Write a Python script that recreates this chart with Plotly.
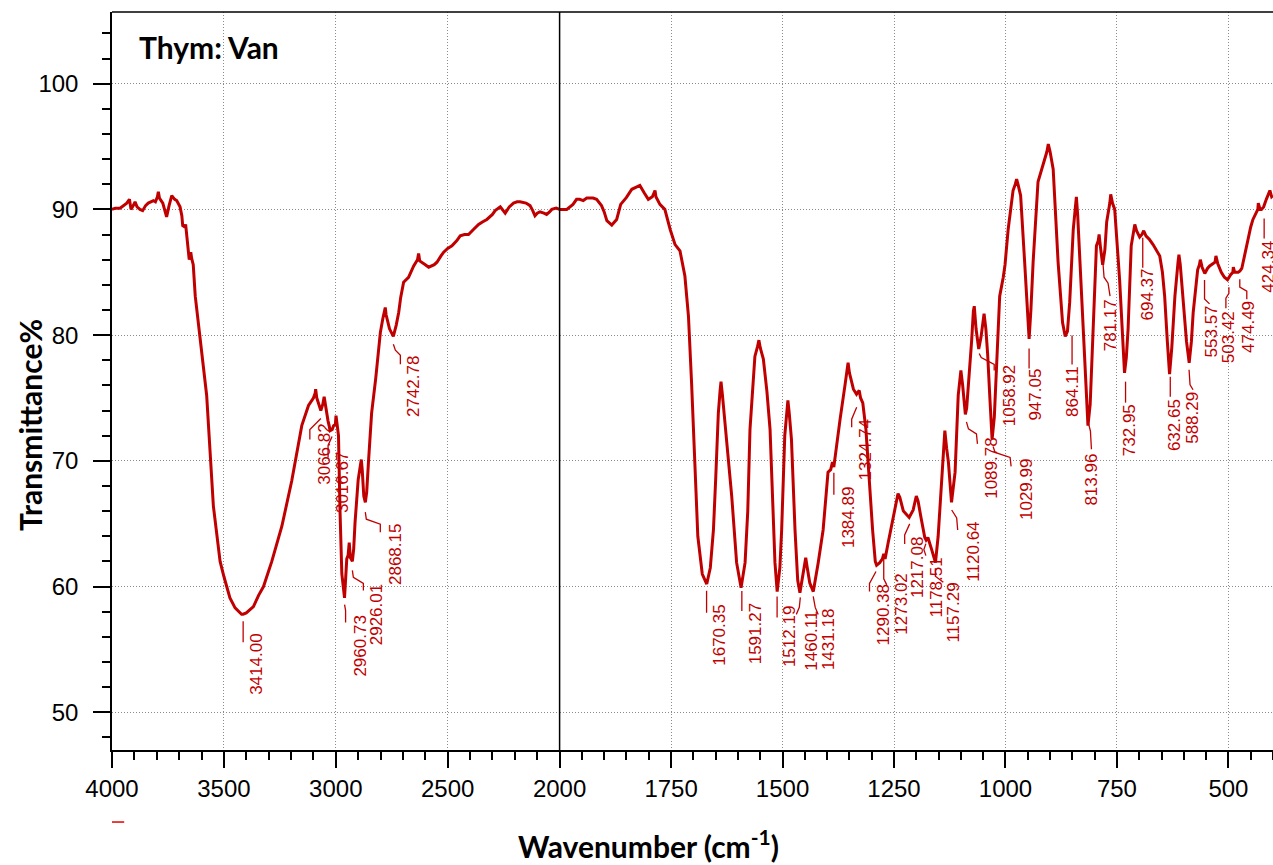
import numpy as np
import plotly.graph_objects as go

# ---------------- data ----------------
wavenumber = [
    4000, 3985, 3964, 3945, 3934, 3922, 3915, 3905, 3897, 3888, 3875, 3863, 3850, 3838, 3826,
    3815, 3806, 3797, 3793, 3788, 3773, 3756, 3745, 3733, 3720, 3711, 3696, 3688, 3684, 3675,
    3671, 3664, 3655, 3651, 3648, 3644, 3637, 3628, 3607, 3577, 3547, 3517, 3500, 3473, 3450,
    3421, 3414, 3400, 3368, 3345, 3323, 3286, 3241, 3197, 3152, 3122, 3100, 3092, 3090, 3085,
    3067, 3058, 3052, 3048, 3035, 3025, 3016, 3010, 3002, 2999, 2994, 2988, 2981, 2973, 2961,
    2955, 2951, 2945, 2940, 2935, 2926, 2920, 2914, 2900, 2892, 2886, 2882, 2875, 2868, 2862,
    2854, 2840, 2822, 2801, 2790, 2783, 2779, 2775, 2760, 2743, 2738, 2730, 2719, 2710, 2697,
    2675, 2652, 2635, 2630, 2625, 2600, 2585, 2560, 2548, 2530, 2518, 2500, 2481, 2460, 2444,
    2425, 2407, 2385, 2362, 2345, 2325, 2300, 2288, 2265, 2255, 2243, 2225, 2206, 2190, 2177,
    2150, 2132, 2120, 2110, 2100, 2088, 2070, 2058, 2045, 2035, 2015, 2000,
    1984, 1970, 1962, 1955, 1947, 1939, 1925, 1917, 1906, 1900, 1894, 1883, 1872, 1863, 1850,
    1838, 1828, 1820, 1810, 1801, 1792, 1786, 1784, 1775, 1764, 1752, 1741, 1730, 1719, 1711,
    1704, 1696, 1690, 1680, 1670, 1662, 1655, 1650, 1644, 1640, 1638, 1635, 1629, 1614, 1603,
    1593, 1584, 1578, 1573, 1562, 1556, 1553, 1550, 1543, 1535, 1528, 1517, 1512, 1506, 1502,
    1495, 1490, 1488, 1485, 1480, 1472, 1466, 1461, 1456, 1450, 1448, 1445, 1439, 1431, 1425,
    1420, 1409, 1398, 1392, 1388, 1385, 1383, 1371, 1360, 1355, 1353, 1350, 1341, 1334, 1328,
    1325, 1320, 1313, 1306, 1298, 1292, 1289, 1282, 1276, 1273, 1270, 1263, 1252, 1244, 1241,
    1237, 1229, 1216, 1207, 1200, 1196, 1190, 1181, 1178, 1174, 1166, 1157, 1151, 1143, 1138,
    1136, 1132, 1128, 1121, 1113, 1106, 1102, 1100, 1096, 1090, 1087, 1081, 1076, 1072, 1070,
    1066, 1060, 1055, 1050, 1048, 1044, 1040, 1035, 1030, 1025, 1020, 1013, 1005, 1001, 994,
    983, 978, 975, 972, 966, 957, 951, 947, 943, 938, 927, 915, 907, 904, 900,
    893, 882, 872, 866, 861, 856, 848, 843, 841, 838, 829, 820, 815, 810, 804,
    796, 792, 790, 787, 782, 777, 773, 766, 764, 760, 755, 744, 737, 733, 729,
    725, 718, 712, 710, 706, 699, 694, 690, 685, 677, 669, 654, 648, 643, 637,
    632, 627, 620, 613, 611, 608, 602, 594, 588, 583, 579, 569, 565, 563, 559,
    553, 547, 542, 530, 528, 524, 516, 509, 502, 495, 490, 489, 486, 478, 474,
    470, 460, 450, 445, 438, 434, 433, 429, 426, 421, 415, 410, 407, 403, 400,
]
transmittance = [
    90.0, 90.1, 90.1, 90.4, 90.5, 90.8, 90.0, 90.3, 90.6, 90.2, 90.0, 89.9, 90.3, 90.5, 90.6,
    90.7, 90.6, 91.0, 91.4, 90.9, 90.5, 89.4, 90.3, 91.1, 90.8, 90.7, 90.2, 89.5, 88.7, 88.6,
    88.8, 87.7, 86.0, 86.3, 86.6, 86.1, 85.6, 83.1, 79.7, 75.2, 66.4, 62.0, 60.8, 59.1, 58.3,
    57.8, 57.8, 57.9, 58.4, 59.3, 60.0, 62.0, 64.8, 68.4, 72.8, 74.4, 75.0, 75.4, 75.7, 75.0,
    74.0, 74.5, 75.1, 74.6, 73.2, 72.4, 72.5, 72.8, 72.9, 73.6, 72.8, 72.0, 65.9, 61.0, 59.1,
    61.5, 62.2, 62.5, 63.5, 62.3, 62.0, 63.0, 65.1, 68.5, 69.6, 70.1, 69.3, 67.2, 66.7, 67.5,
    69.9, 73.8, 76.5, 80.2, 81.3, 81.8, 82.2, 81.6, 80.5, 79.9, 80.2, 80.8, 81.8, 83.0, 84.2,
    84.6, 85.5, 86.0, 86.5, 85.9, 85.6, 85.4, 85.6, 85.8, 86.3, 86.6, 86.9, 87.1, 87.5, 87.9,
    88.0, 88.0, 88.4, 88.8, 89.0, 89.2, 89.6, 89.9, 90.2, 90.0, 89.7, 90.2, 90.5, 90.6, 90.6,
    90.5, 90.3, 89.9, 89.5, 89.7, 89.8, 89.7, 89.6, 89.8, 90.0, 90.1, 90.0,
    90.0, 90.4, 90.8, 90.8, 90.7, 90.9, 90.9, 90.8, 90.3, 89.8, 89.1, 88.75, 89.2, 90.4, 90.95,
    91.6, 91.8, 91.9, 91.3, 90.8, 91.0, 91.5, 91.0, 90.4, 90.0, 88.4, 87.2, 86.7, 84.7, 81.5,
    76.2, 68.5, 64.0, 61.0, 60.2, 61.5, 64.5, 68.5, 73.8, 75.6, 76.3, 75.3, 73.0, 67.2, 61.9,
    59.9, 61.9, 66.0, 72.5, 78.3, 79.1, 79.6, 79.0, 78.1, 75.5, 72.5, 61.9, 59.6, 61.5, 64.5,
    72.0, 74.3, 74.8, 73.8, 71.7, 64.5, 60.5, 59.5, 60.6, 62.0, 62.3, 61.6, 60.3, 59.6, 60.7,
    61.9, 64.5, 69.1, 69.3, 69.9, 69.5, 70.1, 73.3, 76.0, 77.2, 77.8, 77.0, 75.7, 75.3, 75.6,
    75.0, 74.6, 72.5, 68.5, 64.5, 62.0, 61.7, 61.9, 62.2, 62.6, 62.2, 63.5, 65.6, 67.0, 67.4,
    67.1, 66.0, 65.5, 66.1, 67.2, 66.8, 65.6, 63.9, 63.7, 63.9, 63.0, 61.9, 64.0, 68.5, 71.5,
    72.4, 71.0, 69.9, 66.7, 69.1, 75.2, 76.6, 77.2, 76.0, 73.7, 74.2, 76.8, 79.5, 81.9, 82.3,
    80.5, 78.9, 79.8, 81.3, 81.7, 80.5, 78.5, 75.0, 71.7, 73.5, 77.8, 83.1, 84.6, 85.6, 88.4,
    91.5, 92.0, 92.4, 92.0, 91.1, 85.8, 82.0, 79.7, 82.0, 85.8, 92.2, 93.7, 94.6, 95.2, 94.6,
    93.2, 85.8, 81.0, 79.9, 80.3, 82.6, 88.4, 90.2, 91.0, 89.5, 83.1, 76.0, 72.8, 74.5, 80.5,
    87.1, 87.5, 88.0, 87.0, 85.6, 86.8, 89.0, 90.5, 91.2, 90.5, 90.0, 84.4, 79.0, 77.0, 78.2,
    80.5, 87.1, 88.2, 88.8, 88.3, 87.8, 88.0, 88.3, 87.9, 87.6, 87.2, 86.3, 85.0, 83.1, 79.5,
    76.9, 79.0, 83.1, 85.8, 86.4, 85.6, 83.1, 79.5, 77.8, 79.5, 81.8, 85.2, 85.6, 86.0, 85.4,
    84.9, 85.3, 85.5, 85.8, 86.3, 85.7, 85.0, 84.6, 84.4, 84.8, 85.0, 85.4, 85.0, 85.0, 85.1,
    85.3, 87.1, 88.6, 89.2, 89.8, 90.0, 90.5, 90.0, 90.0, 90.2, 90.8, 91.2, 91.5, 91.0, 91.1,
]
peak_labels = [3414.00, 3066.82, 3016.67, 2960.73, 2926.01, 2868.15, 2742.78,
               1670.35, 1591.27, 1512.19, 1460.11, 1431.18, 1384.89, 1324.74, 1290.38,
               1273.02, 1217.08, 1178.51, 1157.29, 1120.64, 1089.78, 1058.92, 1029.99,
               947.05, 864.11, 813.96, 781.17, 732.95, 694.37, 632.65, 588.29, 553.57,
               503.42, 474.49, 424.34]
x_ticks_left = [4000, 3500, 3000, 2500, 2000]
x_ticks_right = [1750, 1500, 1250, 1000, 750, 500]
y_ticks = [50, 60, 70, 80, 90, 100]
sample_name = "Thym: Van"

# ---------------- label styling (pixel offsets: dx, dy_top, leader path) ----------------
label_style = {
    "3414.00": (14, 18, [(0, 7), (0, 28)]),
    "3066.82": (4, 11, [(0, 8), (-11, 19), (-11, 29)]),
    "3016.67": (10, 21, [(0, 7), (-4, 16), (-4, 28)]),
    "2960.73": (15, 17, [(0, 8), (1, 14), (1, 26)]),
    "2926.01": (25, 21, [(0, 9), (1, 16), (11, 22), (11, 29)]),
    "2868.15": (30, 20, [(0, 10), (1, 17), (15, 22), (15, 30)]),
    "2742.78": (20, 18, [(0, 8), (2, 14), (7, 19), (7, 28)]),
    "1670.35": (13, 19, [(0, 7), (0, 29)]),
    "1591.27": (14, 18, [(0, 8), (0, 28)]),
    "1512.19": (13, 14, [(0, 6), (0, 27)]),
    "1460.11": (11, 18, [(0, 7), (-1, 17), (-4, 24)]),
    "1431.18": (16, 16, [(0, 5), (2, 16), (5, 23)]),
    "1384.89": (14, 18, [(0, 6), (0, 28)]),
    "1324.74": (5, 19, [(-4, 9), (-9, 21), (-9, 29)]),
    "1290.38": (7.5, 19, [(0, 8), (-6.5, 20), (-6.5, 28)]),
    "1273.02": (17.5, 18, [(0, 5), (0, 25), (3, 31)]),
    "1217.08": (9, 18, [(1, 7), (-4, 18), (-4, 27)]),
    "1178.51": (11, 16, [(0, 4), (-2, 10), (0, 16)]),
    "1157.29": (18, 18, [(0, 6), (0, 14), (8, 20)]),
    "1120.64": (22, 19, [(0, 9), (5, 17), (6, 29)]),
    "1089.78": (26, 22, [(1, 8), (3, 15), (11, 20), (12, 30)]),
    "1058.92": (30, 17, [(0, 7), (2, 11), (15, 18), (15, 24)]),
    "1029.99": (35, 18, [(1, 7), (3, 13), (18, 18), (19, 27)]),
    "947.05": (6, 28, [(0, 10), (0, 30)]),
    "864.11": (7, 30, [(6, 1), (6, 30)]),
    "813.96": (3, 30, [(0, 2), (2, 10), (3, 28)]),
    "781.17": (7, 35, [(0, 2), (1, 15), (5, 21), (7, 34)]),
    "732.95": (5, 30, [(1, 9), (1, 30)]),
    "694.37": (6, 32, [(1, 3), (1, 33)]),
    "632.65": (6, 27, [(1, 7), (1, 27)]),
    "588.29": (4, 28, [(0, 8), (1, 23), (4, 28)]),
    "553.57": (7, 31, [(0, 7), (0, 26), (5, 31)]),
    "503.42": (1, 30, [(2, 8), (2, 14), (-1, 19), (-1, 29)]),
    "474.49": (8, 28, [(0, 8), (0, 16), (7, 20), (7, 28)]),
    "424.34": (6, 30, [(2, 10), (2, 30)]),
}

RED = "#C00000"
SPLIT = 0.38553

wn = np.array(wavenumber, dtype=float)
tr = np.array(transmittance, dtype=float)
left = wn >= 2000
right = wn <= 2000

fig = go.Figure()
fig.add_trace(go.Scatter(x=wn[left], y=tr[left], mode="lines", xaxis="x", yaxis="y",
                         line=dict(color=RED, width=3), showlegend=False))
fig.add_trace(go.Scatter(x=wn[right], y=tr[right], mode="lines", xaxis="x2", yaxis="y",
                         line=dict(color=RED, width=3), showlegend=False))

annotations = []
shapes = []
wn_inc = wn[::-1]
tr_inc = tr[::-1]
for p in peak_labels:
    txt = f"{p:.2f}"
    tval = float(np.interp(p, wn_inc, tr_inc))
    xr = "x" if p > 2000 else "x2"
    dx, dy, pts = label_style[txt]
    annotations.append(dict(x=p, y=tval, xref=xr, yref="y", text=txt, showarrow=False,
                            textangle=-90, xanchor="center", yanchor="top",
                            xshift=dx, yshift=-dy,
                            font=dict(family="Liberation Sans, Arial", size=17, color=RED)))
    path = "M " + " L ".join(f"{a},{-b}" for a, b in pts)
    shapes.append(dict(type="path", xref=xr, yref="y", xsizemode="pixel", ysizemode="pixel",
                       xanchor=p, yanchor=tval, path=path,
                       line=dict(color=RED, width=1.3)))

# frame: split line, top border, little legend dash
shapes.append(dict(type="line", xref="paper", yref="paper", x0=SPLIT, x1=SPLIT, y0=0, y1=1,
                   line=dict(color="black", width=1.5)))
shapes.append(dict(type="line", xref="paper", yref="paper", x0=0, x1=1, y0=1, y1=1,
                   line=dict(color="black", width=1.5)))
shapes.append(dict(type="line", xref="paper", yref="paper", x0=0, x1=0.0105, y0=-0.0976, y1=-0.0976,
                   line=dict(color="#E00000", width=1.5)))

annotations.append(dict(text="<b>Transmittance%</b>", xref="paper", yref="paper",
                        x=-0.0706, y=0.4404, textangle=-90, showarrow=False,
                        xanchor="center", yanchor="middle",
                        font=dict(family="Lato, Open Sans", size=30, color="black")))
annotations.append(dict(text="<b>Wavenumber (cm<sup>-1</sup>)</b>", xref="paper", yref="paper",
                        x=0.4617, y=-0.128, showarrow=False,
                        xanchor="center", yanchor="middle",
                        font=dict(family="Lato, Open Sans", size=30, color="black")))
annotations.append(dict(text=f"<b>{sample_name}</b>", xref="paper", yref="paper",
                        x=0.0215, y=0.9526, showarrow=False,
                        xanchor="left", yanchor="middle",
                        font=dict(family="Lato, Open Sans", size=30, color="black")))

tick_font = dict(family="Liberation Sans, Arial", size=24, color="black")
grid = dict(showgrid=True, gridcolor="#8c8c8c", gridwidth=1, griddash="1px,2px")
common_x = dict(showline=True, linecolor="black", linewidth=1.5, ticks="outside", ticklen=16,
                tickwidth=1.5, tickcolor="black", tickfont=tick_font, zeroline=False,
                anchor="y", automargin=False, **grid)

fig.update_layout(
    width=1273, height=865,
    margin=dict(l=112, r=0, t=12, b=115, autoexpand=False),
    plot_bgcolor="white", paper_bgcolor="white",
    showlegend=False,
    xaxis=dict(domain=[0, SPLIT], range=[4000, 2000], tickmode="array", tickvals=x_ticks_left,
               minor=dict(dtick=100, tick0=0, ticks="outside", ticklen=8, tickwidth=1.5,
                          tickcolor="black", showgrid=False),
               **common_x),
    xaxis2=dict(domain=[SPLIT, 1], range=[2000, 400], tickmode="array", tickvals=x_ticks_right,
                minor=dict(dtick=50, tick0=0, ticks="outside", ticklen=8, tickwidth=1.5,
                           tickcolor="black", showgrid=False),
                **common_x),
    yaxis=dict(range=[47, 105.7], tickmode="array", tickvals=y_ticks, anchor="x",
               showline=True, linecolor="black", linewidth=1.5, ticks="outside", ticklen=17,
               tickwidth=1.5, tickcolor="black", tickfont=tick_font, zeroline=False,
               ticklabelstandoff=10, automargin=False,
               minor=dict(dtick=2, tick0=0, ticks="outside", ticklen=8, tickwidth=1.5,
                          tickcolor="black", showgrid=False),
               **grid),
    annotations=annotations,
    shapes=shapes,
)

# remove the default page margin so the 1273x865 figure fills the window exactly
fig.write_html("out.html",
               config={"displayModeBar": False},
               post_script="document.body.style.margin='0';document.body.style.overflow='hidden';")
